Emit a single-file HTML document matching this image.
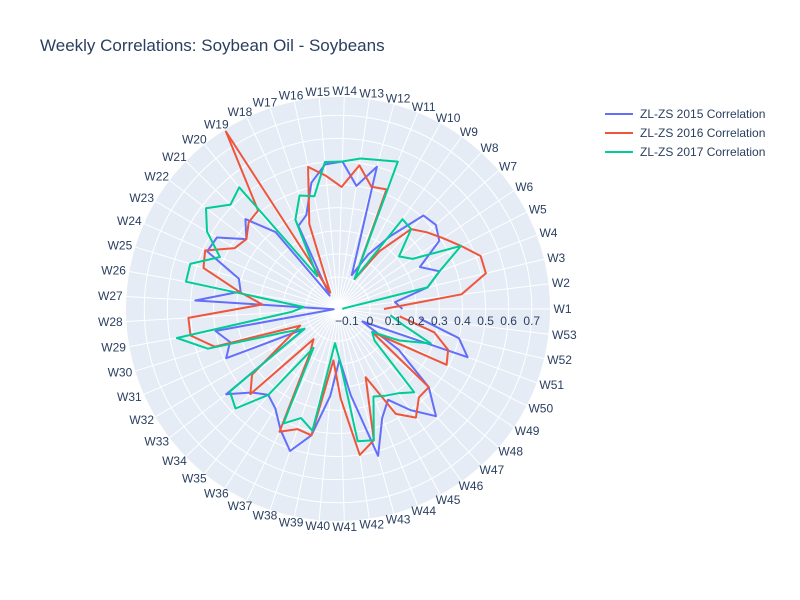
<!DOCTYPE html>
<html><head><meta charset="utf-8"><style>
body{margin:0;background:#fff;}
svg{display:block;font-family:"Liberation Sans",sans-serif;}
</style></head><body>
<svg id="chart" width="800" height="600" xmlns="http://www.w3.org/2000/svg">
<text x="40" y="51" font-size="17" fill="#2a3f5f">Weekly Correlations: Soybean Oil - Soybeans</text>
<g id="polar"></g>
<g id="legend"></g>
</svg>
<script>
const categories = [];
for (let i = 1; i <= 53; i++) categories.push('W' + i);
const seriesNames = ['ZL-ZS 2015 Correlation','ZL-ZS 2016 Correlation','ZL-ZS 2017 Correlation'];
const values2015 = [0.14,0.11,0.26,0.33,0.26,0.39,0.42,0.41,0.25,0.13,0.02,0.50,0.40,0.50,0.49,0.42,0.29,0.26,-0.07,0.29,0.42,0.36,0.47,0.48,0.31,0.29,0.48,-0.12,0.40,0.35,0.39,0.03,0.47,0.38,0.34,0.37,0.44,0.51,0.42,0.24,0.08,0.24,0.52,0.37,0.31,0.40,0.49,0.38,0.18,-0.02,0.46,0.40,0.22];
const values2016 = [0.06,0.40,0.52,0.52,0.46,0.41,0.37,0.33,0.17,0.01,0.42,0.41,0.49,0.39,0.44,0.49,0.25,-0.06,0.77,0.41,0.40,0.36,0.38,0.49,0.47,0.30,0.19,0.51,0.51,0.42,0.04,0.12,0.33,0.39,0.03,0.09,0.45,0.41,0.42,0.085,0.25,0.50,0.45,0.18,0.38,0.44,0.38,0.38,0.04,0.39,0.37,0.29,0.13];
const values2017 = [-0.12,-0.11,0.26,0.33,0.46,0.25,0.21,0.33,0.34,0.01,0.55,0.53,0.52,0.50,0.50,0.36,0.38,0.29,0.03,0.54,0.51,0.58,0.52,0.42,0.53,0.53,0.01,0.06,0.57,0.45,0.11,0.03,0.45,0.48,0.34,0.06,0.41,0.36,0.40,0.01,0.08,0.44,0.45,0.27,0.29,0.31,0.35,0.07,0.04,0.16,0.29,0.15,0.09];
const radialTicks = [-0.1,0,0.1,0.2,0.3,0.4,0.5,0.6,0.7];
const radialTickLabels = ['\u22120.1','0','0.1','0.2','0.3','0.4','0.5','0.6','0.7'];

const NS = 'http://www.w3.org/2000/svg';
const cx = 338, cy = 309, R = 212;
const rMin = -0.1385, rMax = 0.779;
const colors = ['#636efa','#EF553B','#00cc96'];
const allSeries = [values2015, values2016, values2017];
function rScale(v){ return (v - rMin) / (rMax - rMin) * R; }
function angle(i){ return i * 2 * Math.PI / categories.length; }
function pt(i, v){ const r = Math.max(0, rScale(v)), a = angle(i); return [cx + r*Math.cos(a), cy - r*Math.sin(a)]; }
function mk(tag, attrs, parent){ const e = document.createElementNS(NS, tag); for (const k in attrs) e.setAttribute(k, attrs[k]); parent.appendChild(e); return e; }

const g = document.getElementById('polar');
const bg = mk('circle', {cx:cx, cy:cy, r:R, fill:'#e5ecf6'}, g);


categories.forEach((c, i) => {
  const a = angle(i);
  const ln = mk('line', {x1:cx, y1:cy, x2:cx+R*Math.cos(a), y2:cy-R*Math.sin(a), stroke:'#fff', 'stroke-width':1}, g);
  
  
  const w = 10 + 7*(c.length - 1);
  const x = cx + (R+4)*Math.cos(a) + (w/2)*Math.cos(a);
  const y = cy - (R+2)*Math.sin(a) - 4*Math.sin(a) + 4;
  const t = mk('text', {x:x, y:y, 'font-size':12, fill:'#2a3f5f', 'text-anchor':'middle'}, g);
  t.textContent = c;
  
  
});
radialTicks.forEach((v, k) => {
  const c = mk('circle', {cx:cx, cy:cy, r:rScale(v), fill:'none', stroke:'#fff', 'stroke-width':1}, g);
  
  
});
allSeries.forEach((vals, s) => {
  const d = vals.map((v, i) => { const p = pt(i, v); return (i ? 'L' : 'M') + p[0].toFixed(1) + ',' + p[1].toFixed(1); }).join('');
  const p = mk('path', {d:d, fill:'none', stroke:colors[s], 'stroke-width':2, 'stroke-linejoin':'round'}, g);
  
  
});
radialTicks.forEach((v, k) => {
  const t = mk('text', {x:cx + rScale(v), y:cy + 16, 'font-size':12, fill:'#2a3f5f', 'text-anchor':'middle'}, g);
  t.textContent = radialTickLabels[k];
  
  
});

const lg = document.getElementById('legend');
seriesNames.forEach((n, s) => {
  const y = 114 + s*19;
  const item = mk('g', {}, lg);
  
  
  mk('line', {x1:605, y1:y, x2:633, y2:y, stroke:colors[s], 'stroke-width':2}, item);
  const t = mk('text', {x:640, y:y+4, 'font-size':12, fill:'#2a3f5f'}, item);
  t.textContent = n;
});
</script>
</body></html>
